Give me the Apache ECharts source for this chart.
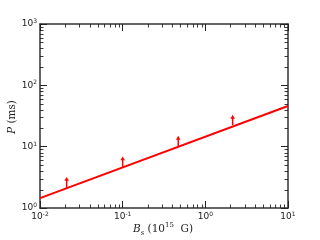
<!DOCTYPE html>
<html><head><meta charset="utf-8">
<script src="https://cdn.jsdelivr.net/npm/echarts@6/dist/echarts.min.js"></script>
<style>html,body{margin:0;padding:0;background:#fff}#c{width:320px;height:240px}</style>
</head><body><div id="c"></div>
<script>
// Fitted line (end points)
const fitB = [0.01, 10];
const fitP = [1.45, 46];
// Lower limits (arrows)
const arrowB = [0.021, 0.1, 0.47, 2.14];
const arrowLow = [2.1, 4.7, 10.0, 22.5];
const arrowHigh = [3.2, 6.9, 15.0, 33.0];
// Tick labels (exponents)
const xTickValues = [0.01, 0.1, 1, 10];
const xTickExp = ['-2', '-1', '0', '1'];
const yTickValues = [1, 10, 100, 1000];
const yTickExp = ['0', '1', '2', '3'];

const X0 = 40, X1 = 288, Y0 = 24, Y1 = 208;
const chart = echarts.init(document.getElementById('c'), null, {renderer: 'canvas'});

function expLabel(vals, exps) {
  return function (v) {
    for (let i = 0; i < vals.length; i++) {
      if (Math.abs(Math.log10(v) - Math.log10(vals[i])) < 1e-6) return '10{s|' + exps[i] + '}';
    }
    return '';
  };
}
const tickRich = {s: {fontSize: 6, verticalAlign: 'top', fontFamily: 'DejaVu Sans', color: '#222', lineHeight: 11}};

const lineData = fitB.map((b, i) => [b, fitP[i]]);
const arrowData = arrowB.map((b, i) => [b, arrowLow[i], arrowHigh[i]]);

function minorTicks(params, api) {
  const cs = params.coordSys;
  const children = [];
  const L = 3.5;
  const st = {stroke: '#222', lineWidth: 0.9};
  const decX = [0.01, 0.1, 1];
  const decY = [1, 10, 100];
  for (const d of decX) for (let m = 2; m <= 9; m++) {
    const x = Math.round(api.coord([d * m, 1])[0]) + 0.5;
    children.push({type: 'line', shape: {x1: x, y1: cs.y + cs.height, x2: x, y2: cs.y + cs.height - L}, style: st});
    children.push({type: 'line', shape: {x1: x, y1: cs.y, x2: x, y2: cs.y + L}, style: st});
  }
  for (const d of decY) for (let m = 2; m <= 9; m++) {
    const y = Math.round(api.coord([0.01, d * m])[1]) + 0.5;
    children.push({type: 'line', shape: {x1: cs.x, y1: y, x2: cs.x + L, y2: y}, style: st});
    children.push({type: 'line', shape: {x1: cs.x + cs.width, y1: y, x2: cs.x + cs.width - L, y2: y}, style: st});
  }
  return {type: 'group', children};
}

function arrowItem(params, api) {
  const p0 = api.coord([api.value(0), api.value(1)]);
  const p1 = api.coord([api.value(0), api.value(2)]);
  const x = p0[0];
  return {type: 'group', children: [
    {type: 'line', shape: {x1: x, y1: p0[1], x2: x, y2: p1[1] + 3}, style: {stroke: '#ff0000', lineWidth: 1.5}},
    {type: 'polygon', shape: {points: [[x - 2.3, p1[1] + 3.8], [x + 2.3, p1[1] + 3.8], [x, p1[1]]]}, style: {fill: '#ff0000'}}
  ]};
}

const axisCommon = {
  type: 'log', logBase: 10, interval: 1,
  axisLine: {show: true, onZero: false, lineStyle: {color: '#333', width: 1.5}},
  axisTick: {show: true, inside: true, length: 7, lineStyle: {color: '#222', width: 1}},
  splitLine: {show: false}, minorTick: {show: false}
};

chart.setOption({
  animation: false,
  backgroundColor: '#fff',
  grid: {left: X0, right: 320 - X1, top: Y0, bottom: 240 - Y1, containLabel: false},
  xAxis: [
    Object.assign({}, axisCommon, {min: 0.01, max: 10, position: 'bottom',
      axisLabel: {show: true, margin: 3, fontSize: 9, fontFamily: 'DejaVu Sans', color: '#222',
        formatter: expLabel(xTickValues, xTickExp), rich: tickRich}}),
    Object.assign({}, axisCommon, {min: 0.01, max: 10, position: 'top', axisLabel: {show: false}})
  ],
  yAxis: [
    Object.assign({}, axisCommon, {min: 1, max: 1000, position: 'left',
      axisLabel: {show: true, margin: 3, fontSize: 9, fontFamily: 'DejaVu Sans', color: '#222',
        formatter: expLabel(yTickValues, yTickExp), rich: tickRich}}),
    Object.assign({}, axisCommon, {min: 1, max: 1000, position: 'right', axisLabel: {show: false}})
  ],
  graphic: [
    {type: 'text', x: 163, y: 229, style: {
      text: '{i|B}{sub|s} {n|(10}{sup|15}{n|  G)}', align: 'center', verticalAlign: 'middle',
      rich: {
        i: {fontFamily: 'DejaVu Serif', fontStyle: 'italic', fontSize: 10.5, verticalAlign: 'middle', lineHeight: 15, fill: '#222'},
        n: {fontFamily: 'DejaVu Serif', fontSize: 10.5, verticalAlign: 'middle', lineHeight: 15, fill: '#222'},
        sub: {fontFamily: 'DejaVu Serif', fontStyle: 'italic', fontSize: 7, verticalAlign: 'bottom', lineHeight: 15, fill: '#222'},
        sup: {fontFamily: 'DejaVu Serif', fontSize: 7, verticalAlign: 'top', lineHeight: 15, fill: '#222'}
      }}},
    {type: 'text', x: 12, y: 117, rotation: Math.PI / 2, style: {
      text: '{i|P} {n|(ms)}', align: 'center', verticalAlign: 'middle',
      rich: {
        i: {fontFamily: 'DejaVu Serif', fontStyle: 'italic', fontSize: 10.5, fill: '#222'},
        n: {fontFamily: 'DejaVu Serif', fontSize: 10.5, fill: '#222'}
      }}}
  ],
  series: [
    {type: 'custom', xAxisIndex: 0, yAxisIndex: 0, data: [[1, 1]], renderItem: minorTicks, silent: true, clip: false, z: 1},
    {type: 'line', xAxisIndex: 0, yAxisIndex: 0, data: lineData, showSymbol: false, symbol: 'none',
      lineStyle: {color: '#ff0000', width: 2}, clip: true, z: 3},
    {type: 'custom', xAxisIndex: 0, yAxisIndex: 0, data: arrowData, encode: {x: 0, y: [1, 2]}, renderItem: arrowItem, z: 4}
  ]
});
</script></body></html>
